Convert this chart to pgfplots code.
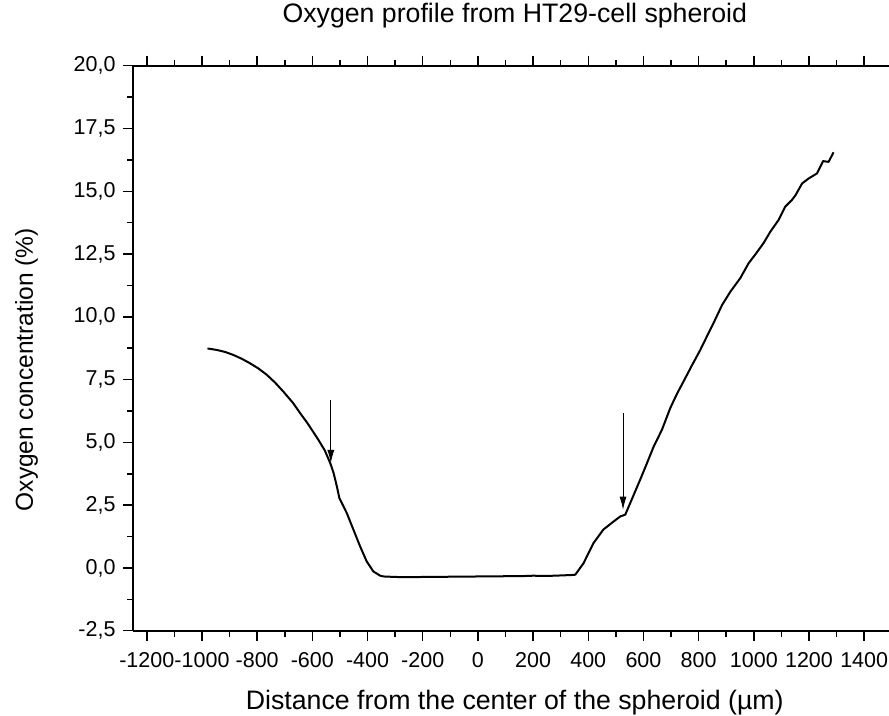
\documentclass[border=0pt]{standalone}
\usepackage{fontspec}
\setmainfont{Liberation Sans}
\usepackage{pgfplots}
\pgfplotsset{compat=1.18}
\usetikzlibrary{arrows.meta}
\pgfplotstableread{
x y
-980 8.74
-946 8.68
-916 8.60
-886 8.48
-856 8.33
-826 8.15
-795 7.94
-765 7.69
-735 7.38
-705 7.02
-670 6.57
-644 6.16
-620 5.80
-597 5.42
-578 5.10
-555 4.68
-535 4.17
-523 3.78
-511 3.24
-502 2.78
-493 2.58
-475 2.18
-451 1.52
-427 0.86
-403 0.26
-379 -0.14
-354 -0.31
-342 -0.34
-300 -0.36
-250 -0.37
-200 -0.36
-150 -0.36
-100 -0.35
-50 -0.35
0 -0.34
50 -0.34
100 -0.33
150 -0.33
200 -0.31
250 -0.32
300 -0.30
345 -0.28
353 -0.27
383 0.19
419 0.99
455 1.53
492 1.85
516 2.05
534 2.12
552 2.58
588 3.51
612 4.15
637 4.83
667 5.50
697 6.36
720 6.90
745 7.42
775 8.05
806 8.68
830 9.22
854 9.75
885 10.47
915 11.00
951 11.54
981 12.13
1008 12.52
1035 12.93
1060 13.39
1090 13.86
1114 14.39
1138 14.65
1151 14.84
1175 15.31
1199 15.51
1229 15.71
1251 16.20
1271 16.17
1289 16.55
}\oxy
\begin{document}
\begin{tikzpicture}
\begin{axis}[
  at={(0,0)}, anchor=south west,
  scale only axis, width=756bp, height=565bp,
  xmin=-1250, xmax=1490, ymin=-2.5, ymax=20,
  separate axis lines,
  axis x line=box, axis y line=left,
  axis line style={-, line width=2bp},
  xtick={-1200,-1000,...,1400},
  ytick={-2.5,0,...,20},
  minor x tick num=1, minor y tick num=1,
  tick align=outside,
  major tick length=10bp, minor tick length=6bp,
  every tick/.style={black, line width=1.5bp},
  /pgf/number format/assume math mode=true,
  /pgf/number format/1000 sep={},
  ticklabel style={font=\fontsize{21.5bp}{24bp}\selectfont},
  xticklabel style={yshift=-8bp},
  yticklabel style={xshift=-4bp, /pgf/number format/.cd, fixed, fixed zerofill, precision=1, use comma},
  title={Oxygen profile from HT29-cell spheroid},
  title style={font=\fontsize{26.7bp}{30bp}\selectfont, at={(axis description cs:0.505,1.0655)}, anchor=base},
  xlabel={Distance from the center of the spheroid (µm)},
  xlabel style={font=\fontsize{26.7bp}{30bp}\selectfont, at={(axis description cs:0.505,-0.14)}, anchor=base},
  ylabel={Oxygen concentration (\%)},
  ylabel style={font=\fontsize{24.5bp}{28bp}\selectfont, at={(axis description cs:-0.1323,0.462)}, rotate=0, anchor=base},
]
\addplot[black, line width=2bp, line join=round] table[x=x,y=y] {\oxy};
\addplot[black, line width=0.8bp, -{Latex[length=13bp,width=7bp]}] coordinates {(-533,6.69) (-533,4.18)};
\addplot[black, line width=0.8bp, -{Latex[length=13bp,width=7bp]}] coordinates {(526,6.16) (526,2.32)};
\end{axis}
\pgfresetboundingbox
\path[use as bounding box] (-133bp,-85bp) rectangle (756bp,630.7bp);
\end{tikzpicture}
\end{document}
